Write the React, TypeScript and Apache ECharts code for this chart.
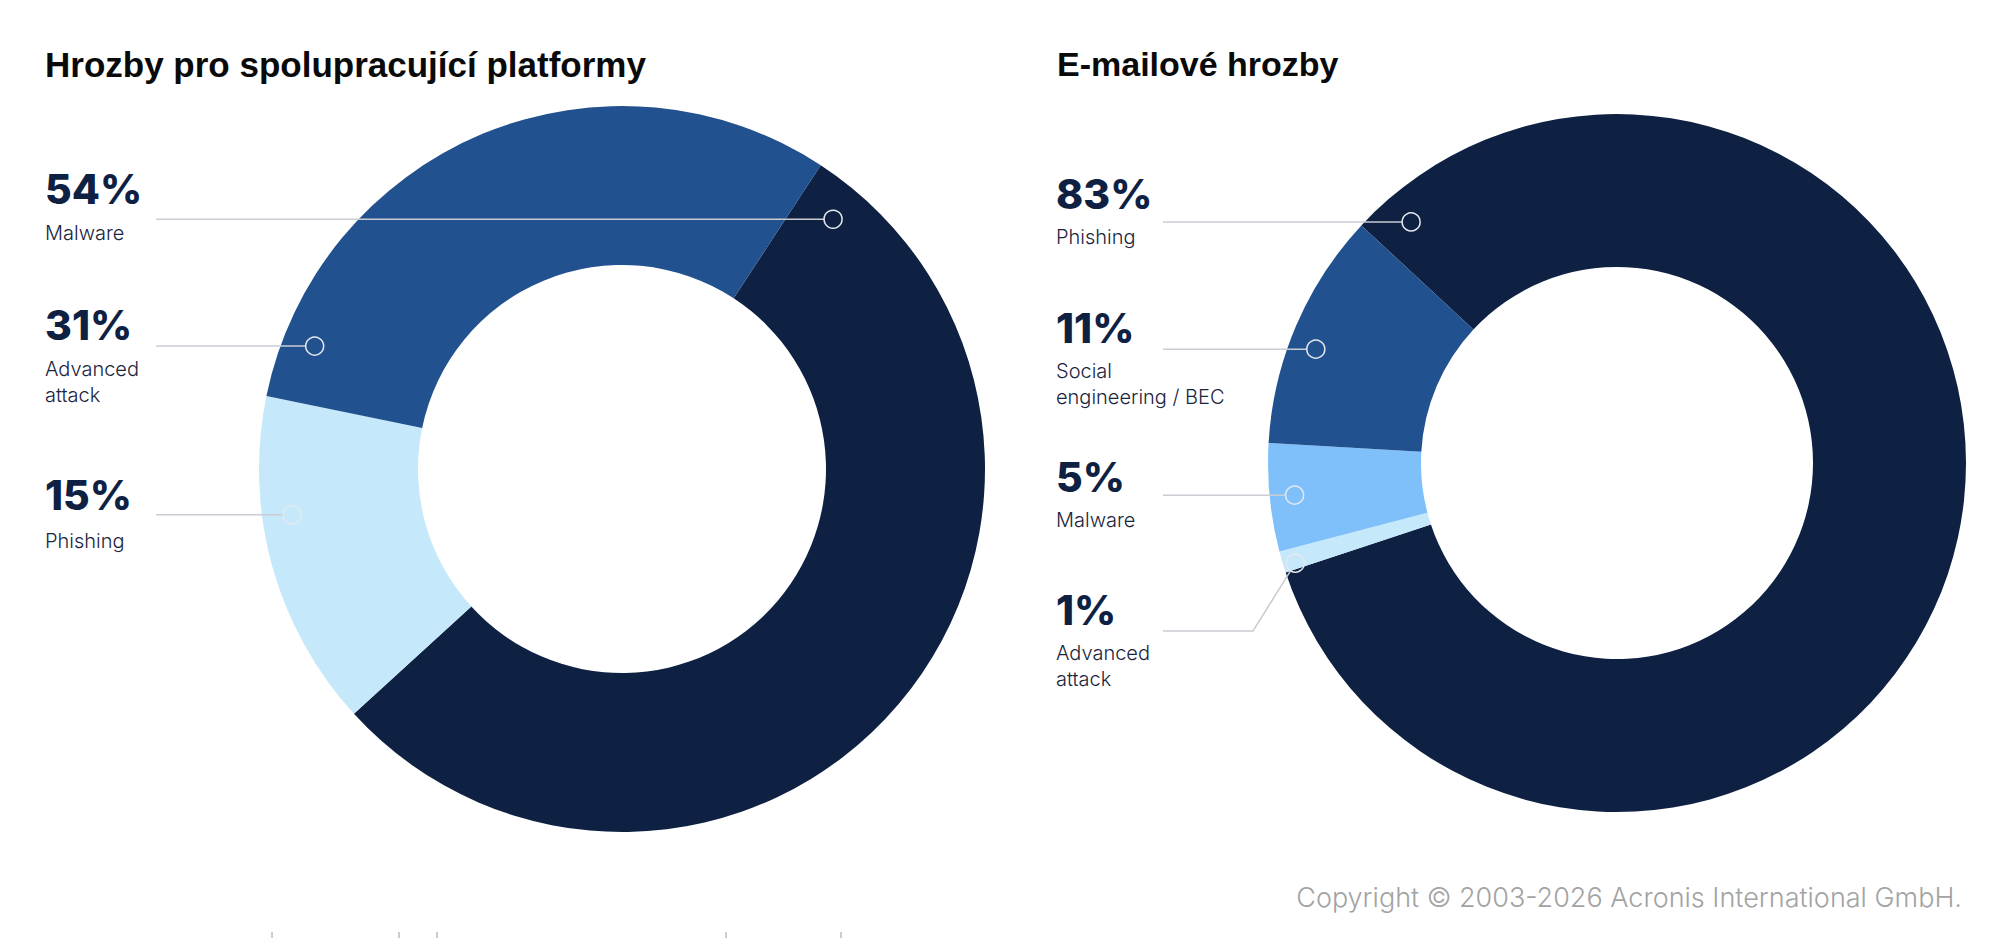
import React, { useEffect, useRef } from 'react';
import * as echarts from 'echarts';

// ---------- data ----------
const leftTitle = 'Hrozby pro spolupracující platformy';
const leftCategories = ['Malware', 'Phishing', 'Advanced attack'];
const leftValues = [54, 15, 31];
const leftLabelLines = [['Malware'], ['Phishing'], ['Advanced', 'attack']];

const rightTitle = 'E-mailové hrozby';
const rightCategories = ['Phishing', 'Advanced attack', 'Malware', 'Social engineering / BEC'];
const rightValues = [83, 1, 5, 11];
const rightLabelLines = [['Phishing'], ['Advanced', 'attack'], ['Malware'], ['Social', 'engineering / BEC']];

const copyrightText = 'Copyright © 2003-2026 Acronis International GmbH.';

// ---------- styles / layout ----------
const NAVY = '#0f2143';
const MID = '#22518f';
const LIGHT = '#c6e8fb';
const SKY = '#7fc0fa';
const leftColors = [NAVY, LIGHT, MID];
const rightColors = [NAVY, LIGHT, SKY, MID];

const leftLayout = {
  center: [622, 469], r0: 204, r1: 363, startAngle: 56.8, titleX: 45, labelX: 45, lineX: 156,
  items: [
    { pctY: 189, subY: 233, ang: 40.2, rad: 327 },
    { pctY: 495, subY: 541, ang: 262.1, rad: 333 },
    { pctY: 325, subY: 369, ang: 291.8, rad: 331 },
  ],
};
const rightLayout = {
  center: [1617, 463], r0: 196, r1: 349, startAngle: 137.1, titleX: 1057, labelX: 1056, lineX: 1163,
  items: [
    { pctY: 194, subY: 237, ang: 319.5, rad: 317 },
    { pctY: 610, subY: 653, ang: 252.7, rad: 337, bendY: 631, bendX: 1253 },
    { pctY: 477, subY: 520, ang: 264.3, rad: 324 },
    { pctY: 328, subY: 371, ang: 290.7, rad: 322 },
  ],
};

const MARK_R = 9;
const LINE_COLOR = '#c9cdd3';
const MARK_COLOR = '#e4e9ef';

function buildGraphics(layout: any, values: number[], lines: string[][]) {
  const els: any[] = [];
  const [cx, cy] = layout.center;
  layout.items.forEach((it: any, i: number) => {
    const a = (it.ang * Math.PI) / 180;
    const mx = cx + it.rad * Math.sin(a);
    const my = cy - it.rad * Math.cos(a);
    els.push({
      type: 'text', x: layout.labelX, y: it.pctY, z: 20,
      style: { text: values[i] + '%', fontFamily: 'Inter', fontWeight: 800, fontSize: 41, fill: NAVY, verticalAlign: 'middle', align: 'left' },
    });
    lines[i].forEach((t, k) => {
      els.push({
        type: 'text', x: layout.labelX, y: it.subY + k * 26, z: 20,
        style: { text: t, fontFamily: 'Inter', fontWeight: 300, fontSize: 20, fill: '#1b2540', verticalAlign: 'middle', align: 'left' },
      });
    });
    if (it.bendY !== undefined) {
      const dx = mx - it.bendX, dy = my - it.bendY;
      const d = Math.sqrt(dx * dx + dy * dy);
      els.push({
        type: 'polyline', z: 15,
        shape: { points: [[layout.lineX, it.bendY], [it.bendX, it.bendY], [mx - (dx / d) * MARK_R, my - (dy / d) * MARK_R]] },
        style: { stroke: LINE_COLOR, lineWidth: 1.5, fill: 'none' },
      });
    } else {
      els.push({
        type: 'line', z: 15,
        shape: { x1: layout.lineX, y1: my, x2: mx - MARK_R, y2: my },
        style: { stroke: LINE_COLOR, lineWidth: 1.5 },
      });
    }
    els.push({
      type: 'circle', z: 16,
      shape: { cx: mx, cy: my, r: MARK_R },
      style: { fill: 'none', stroke: MARK_COLOR, lineWidth: 1.5 },
    });
  });
  return els;
}

function pieSeries(layout: any, cats: string[], vals: number[], colors: string[]) {
  return {
    type: 'pie',
    center: layout.center,
    radius: [layout.r0, layout.r1],
    startAngle: layout.startAngle,
    clockwise: true,
    silent: true,
    avoidLabelOverlap: false,
    label: { show: false },
    labelLine: { show: false },
    emphasis: { disabled: true },
    itemStyle: { borderWidth: 0 },
    data: cats.map((c, i) => ({ name: c, value: vals[i], itemStyle: { color: colors[i] } })),
  };
}

export default function App() {
  const ref = useRef<HTMLDivElement>(null);
  useEffect(() => {
    if (!ref.current) return;
    const chart = echarts.init(ref.current, null, { renderer: 'svg' });
    const graphics: any[] = [
      {
        type: 'text', x: leftLayout.titleX, y: 64, z: 20,
        style: { text: leftTitle, fontFamily: '"Liberation Sans", Arial', fontWeight: 'bold', fontSize: 35, fill: '#0a0a0a', verticalAlign: 'middle' },
      },
      {
        type: 'text', x: rightLayout.titleX, y: 64, z: 20,
        style: { text: rightTitle, fontFamily: '"Liberation Sans", Arial', fontWeight: 'bold', fontSize: 34, fill: '#0a0a0a', verticalAlign: 'middle' },
      },
      ...buildGraphics(leftLayout, leftValues, leftLabelLines),
      ...buildGraphics(rightLayout, rightValues, rightLabelLines),
      {
        type: 'text', x: 1962, y: 897, z: 20,
        style: { text: copyrightText, fontFamily: 'Inter', fontWeight: 300, fontSize: 27, fill: '#a3a3a3', verticalAlign: 'middle', align: 'right' },
      },
      ...[272, 399, 437, 726, 841].map((x) => ({
        type: 'line', z: 5, shape: { x1: x, y1: 932, x2: x, y2: 938 }, style: { stroke: '#9a9a9a', lineWidth: 1 },
      })),
    ];
    chart.setOption({
      animation: false,
      backgroundColor: '#ffffff',
      series: [
        pieSeries(leftLayout, leftCategories, leftValues, leftColors),
        pieSeries(rightLayout, rightCategories, rightValues, rightColors),
      ],
      graphic: graphics,
    });
    return () => chart.dispose();
  }, []);
  return <div ref={ref} style={{ position: 'absolute', left: 0, top: 0, width: 2000, height: 946 }} />;
}
